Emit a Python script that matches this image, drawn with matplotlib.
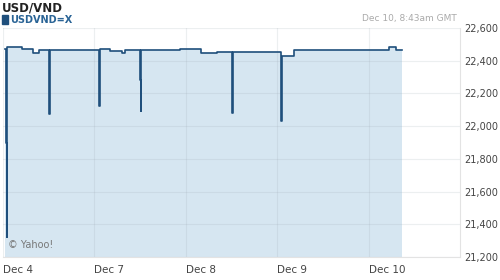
import matplotlib
matplotlib.use('Agg')
import matplotlib.pyplot as plt
from matplotlib.patches import Rectangle

# ── Data (trading-day index: 0 = Dec 4 ... 4 = Dec 10) ─────────
day_labels = ['Dec 4', 'Dec 7', 'Dec 8', 'Dec 9', 'Dec 10']
day_pos    = [0, 1, 2, 3, 4]

t = [0.02, 0.033, 0.040, 0.046, 0.13, 0.21, 0.33, 0.39, 0.50, 0.505, 0.51,
     1.05, 1.056, 1.17, 1.30, 1.34, 1.50, 1.505, 1.51, 1.94, 2.17, 2.34,
     2.51, 2.516, 3.04, 3.045, 3.05, 3.18, 4.22, 4.30, 4.37]
rate = [22470, 21900, 21320, 22482, 22486, 22470, 22449, 22465, 22270, 22074, 22465,
        22123, 22472, 22461, 22449, 22465, 22280, 22092, 22465, 22472, 22445, 22455,
        22080, 22451, 22250, 22031, 22428, 22465, 22486, 22465, 22465]

y_ticks = [21200, 21400, 21600, 21800, 22000, 22200, 22400, 22600]

# ── Style ─────────────────────────────────────────────────────
LINE = '#1f4f7c'
FILL = '#d6e6f1'
GRID = '#e3e3e3'
TXT  = '#444444'

fig = plt.figure(figsize=(5, 2.8), dpi=100, facecolor='white')
ax = fig.add_axes([0.006, 0.082, 0.914, 0.818])

ax.fill_between(t, rate, y_ticks[0], step='post', color=FILL, linewidth=0, zorder=1)
ax.plot(t, rate, drawstyle='steps-post', color=LINE, linewidth=1.2, zorder=3)

ax.set_xlim(0, 5)
ax.set_ylim(y_ticks[0], y_ticks[-1])
ax.set_yticks(y_ticks)
ax.set_yticklabels([f'{v:,}' for v in y_ticks])
ax.yaxis.tick_right()
ax.set_xticks(day_pos)
ax.set_xticklabels(day_labels, ha='left')
ax.tick_params(axis='x', length=0, labelsize=7.5, labelcolor=TXT, pad=6)
ax.tick_params(axis='y', length=0, labelsize=7, labelcolor=TXT, pad=3)
ax.grid(True, color='#9aa7b0', alpha=0.18, linewidth=0.8, zorder=2)
for s in ax.spines.values():
    s.set_color(GRID)
    s.set_linewidth(0.8)
ax.spines['left'].set_visible(False)
ax.spines['top'].set_visible(False)

ax.text(0.012, 0.04, '\u00a9 Yahoo!', transform=ax.transAxes, fontsize=7,
        color='#777777', zorder=4)

# ── Header ────────────────────────────────────────────────────
fig.text(0.004, 0.995, 'USD/VND', fontsize=8.5, fontweight='bold', color='#222222', va='top')
fig.patches.append(Rectangle((0.004, 1 - 24/280), 0.012, 9/280, transform=fig.transFigure,
                             color=LINE))
fig.text(0.02, 1 - 20/280, 'USDVND=X', fontsize=7, fontweight='bold', color='#2a6496', va='center')
fig.text(0.914, 1 - 19/280, 'Dec 10, 8:43am GMT', fontsize=6.5, color='#aaaaaa',
         va='center', ha='right')

plt.savefig('out.png', dpi=100, facecolor='white')
